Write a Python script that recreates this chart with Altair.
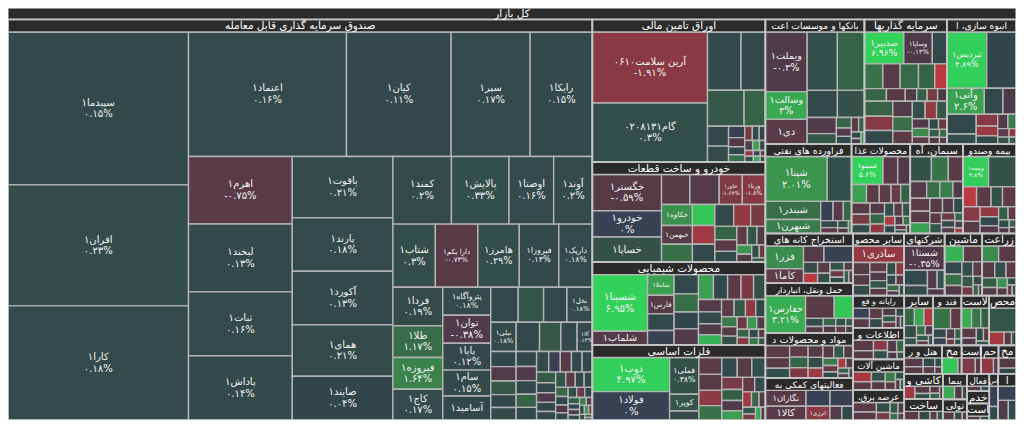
import altair as alt
import pandas as pd

# ---------------- data ----------------
ROOT_TITLE = "کل بازار"

SECTOR_HEADERS = [
    "صندوق سرمایه گذاری قابل معامله", "اوراق تامین مالی", "خودرو و ساخت قطعات", "محصولات شیمیایی",
    "فلزات اساسی", "بانکها و موسسات اعت", "سرمایه گذاریها", "انبوه سازی، ا", "فراورده های نفتی",
    "محصولات غذا", "سیمان، آه", "بیمه وصندو", "استخراج کانه های", "حمل ونقل، انباردار",
    "مواد و محصولات د", "فعالیتهای کمکی به", "سایر محصو", "شرکتهای", "ماشین", "زراعت",
    "رایانه و فع", "اطلاعات و", "ماشین آلات", "عرضه برق،\u200f", "سایر", "قند و", "لاست", "محص",
    "هتل و ر", "مخ", "است", "حم", "مخ", "کاشی و", "ساخت", "پیما", "تولی", "فعال", "خدم", "است",
    "اس", "ا",
]
SECTOR_SIZES = [
    245856, 25900, 18200, 15050, 13650, 12954, 10795, 9017, 8096, 5520, 4968, 4968,
    4576, 4576, 4136, 3872, 3339, 2646, 2457, 2205, 1734, 1700, 1650, 1620,
    1508, 1480, 1450, 1404, 1131, 580, 580, 522, 522, 1014, 858, 650, 525, 408, 288, 384, 432, 864,
]
SECTOR_GROUPS = "V1 V4 H3 H4 V4 H4 V4 H4 H5 V2 V2 V3 V1 V1"

# cells shown with name only (no percent line)
NAME_ONLY = {"آسامید۱", "خساپا۱", "خکاوه۱", "خبهمن۱", "شبندر۱", "شبهرن۱", "شاملا۱", "فارس۱",
             "شلماب۱", "کویر۱", "دی۱", "فزر۱", "کاما۱", "نگاران۱", "کالا۱", "انرژی۱", "ساذری۱"}

funds_main = [
    ("سپیدما۱", 28756, 0.15), ("افران۱", 22750, 0.23), ("کارا۱", 21476, 0.18),
    ("اعتماد۱", 20480, 0.16), ("کیان۱", 13568, 0.11), ("سپر۱", 10240, 0.17), ("رایکا۱", 8064, 0.15),
    ("اهرم۱", 7300, -0.75), ("لبخند۱", 7350, 0.13), ("ثبات۱", 6900, 0.16), ("پاداش۱", 6950, 0.14),
    ("یاقوت۱", 6426, 0.21), ("پارند۱", 5610, 0.18), ("آکورد۱", 5610, 0.13), ("همای۱", 5406, 0.21),
    ("صایند۱", 4590, 0.04),
    ("کمند۱", 4130, 0.2), ("پالایش۱", 4060, 0.33), ("اوصتا۱", 3150, 0.16), ("آوند۱", 2730, 0.2),
    ("شتاب۱", 2795, 0.3), ("دارا یکم۱", 2795, -0.73), ("هامرز۱", 2730, 0.29), ("فیروزا۱", 2600, 0.13),
    ("داریک۱", 2210, 0.18),
    ("فردا۱", 2000, 0.19), ("طلا۱", 1650, 1.17), ("فیروزه۱", 1650, 1.64), ("کاج۱", 1600, 0.17),
    ("پتروآگاه۱", 1400, 0.18), ("توان۱", 1400, -0.38), ("پایا۱", 1344, 0.12), ("سام۱", 1296, 0.15),
    ("آسامید۱", 1200, 0.1),
    ("", 999, 0.1), ("", 925, 0.45), ("", 851, 0.1), ("نخل۱", 925, 0.18),
    ("نیلی۱", 775, 0.18), ("", 713, 0.1), ("", 651, 0.6), ("", 496, 0.08), ("آلا۱", 465, 0.12),
]
funds_groups = "V3 H4 V4 V5 H4 H5 V4 V5 H4 H5"
funds_rest_sizes = [400, 380, 360, 340, 330, 320, 300, 290, 280, 270, 260, 250, 240, 230, 220, 210, 200,
                    190, 180, 170, 160, 150, 140, 130, 120, 110, 100, 95, 90, 85, 80, 75, 70, 65, 60, 55,
                    50, 45, 40, 35, 30, 25, 20]
funds_rest_changes = [0.1, -0.5, 0.6, 0.1, 0.2, 0.1, -0.4, 0.1, 0.9, 0.1, 0.2, 0, -0.6, 0.1, 0.1, 0.7,
                      0.1, -0.3, 0.1, 0.1, 0.5, -0.8, 0.1, 0.2, 1.1, 0.1, -0.4, 0.1, 0.3, -1.2, 0.1, 0.8,
                      0.1, -0.5, 0.2, 1.5, -0.9, 0.1, 2.0, -1.5, 0.1, 0.6, -0.3]

bonds_main = [("آرین سلامت۰۶۱۰", 8280, -1.91), ("گام۰۲۰۸۱۳۱", 6900, 0.3), ("", 1980, 0.1),
              ("", 1440, 0.15), ("", 1332, 0.6), ("", 777, 0.9)]
bonds_groups = "V2 H2 H2"
bonds_rest_sizes = [425, 340, 187, 150, 130, 120, 110, 100, 90, 80, 70, 60, 50, 50, 40, 40, 30, 30]
bonds_rest_changes = [0.1, 0.2, 0, -0.5, 0.1, 1.2, -1.5, 0.2, 0.1, -0.3, 2.5, 0.1, -2.0, 0.4, 0.1, 3.0,
                      -0.6, 0.2]

auto_main = [("خگستر۱", 2556, -0.59), ("خودرو۱", 1846, 0), ("خساپا۱", 1775, 0.4), ("", 864, -0.6),
             ("", 896, -0.5), ("خاور۱", 704, -1.67), ("ورنا۱", 704, -1.8), ("خکاوه۱", 660, 1.9),
             ("خبهمن۱", 594, -0.6), ("", 561, 1.2), ("", 480, 4.5), ("", 432, -2.5), ("", 408, 0.1)]
auto_groups = "V3 H4 V3 V3"
auto_rest_sizes = [420, 380, 330, 300, 260, 240, 200, 180, 160, 140, 120, 100, 80, 60]
auto_rest_changes = [0.1, -2.2, -1.5, 1.0, -0.8, 0.2, -1.0, 0.5, -0.3, 2.0, -0.5, 0.3, -1.2, 0.8]

chem_main = [("شسینا۱", 3190, 6.95), ("شلماب۱", 770, -0.5), ("شاملا۱", 560, 2.5), ("فارس۱", 504, -0.6),
             ("", 448, 0.1), ("", 392, 0)]
chem_groups = "V2 V4"
chem_rest_sizes = [480, 450, 420, 400, 380, 360, 340, 320, 300, 290, 280, 260, 240, 220, 200, 180, 170,
                   160, 150, 140, 130, 120, 110, 100, 90, 80, 70, 60, 50]
chem_rest_changes = [0.1, 1.2, 0.05, -0.4, 2.5, 0.1, -0.8, -1.6, 0.4, -0.5, 0.2, -0.3, 3.5, -0.9, 0.6,
                     -2.1, 0.1, 1.5, -0.6, 0.3, -1.2, 2.2, -0.3, 0.9, -1.8, 0.2, 1.4, -0.7, 0.5]

metal_main = [("ذوب۱", 2730, 4.97), ("فولاد۱", 2262, 0), ("فملی۱", 1110, 0.38), ("کویر۱", 510, 0.5),
              ("", 270, 0.2)]
metal_groups = "V2 V3"
metal_rest_sizes = [400, 380, 360, 340, 320, 300, 280, 260, 240, 220, 200, 180, 160, 140, 120, 100, 90,
                    80, 70, 60]
metal_rest_changes = [-0.9, -0.6, -2.0, 1.3, 0.1, -0.7, 0.3, -1.5, 0.8, -0.4, 2.4, -1.1, 0.2, -2.6, 1.0,
                      -0.3, 0.5, -1.4, 3.0, -0.2]

bank_main = [("ویملت۱", 2378, -0.3), ("وسالت۱", 1107, 3.0), ("دی۱", 984, -0.8), ("", 1682, 0.3),
             ("", 1508, 0.9), ("", 783, 0.15), ("", 702, 0.35)]
bank_groups = "V3 H2 H2"
bank_rest_sizes = [448, 288, 150, 120, 110, 100, 80, 60, 50, 40]
bank_rest_changes = [-0.4, 0.6, 1.0, -0.5, 0.1, -1.0, 0.8, 0.1, -0.3, 2.0]

invest_main = [("صدبیر۱", 1240, 6.96), ("وساپا۱", 899, -0.13), ("", 465, 0.1), ("", 450, 1.3),
               ("", 425, -0.7), ("", 450, 1.1), ("", 400, 0.9), ("", 300, -3.5), ("", 273, 1.0),
               ("", 234, -0.7), ("", 143, -0.5), ("", 130, 0.8), ("", 130, -1.5), ("", 117, -0.2)]
invest_groups = "H3 H5 H6"
invest_rest_sizes = [420, 400, 380, 300, 280, 250, 220, 200, 180, 160, 140, 120, 100, 90, 80, 70, 60, 50]
invest_rest_changes = [0.9, -1.8, 0.1, -0.5, 1.2, -0.9, 0.3, -2.2, 0.6, -0.4, 1.8, -0.8, 0.2, -1.3, 0.7,
                       -0.2, 1.1, -0.6]

build_main = [("ثپردیس۱", 2300, 4.89), ("", 1700, 0.05), ("وآتی۱", 1000, 2.6), ("", 500, 0.1),
              ("", 350, -0.2)]
build_groups = "H2 H3"
build_rest_sizes = [595, 300, 260, 220, 180, 150, 120, 100, 80, 60, 50]
build_rest_changes = [0.1, 0.3, -1.8, -2.5, 0.2, -0.5, 1.5, -1.0, 0.4, -2.0, 0.8]

oil_main = [("شپنا۱", 2806, 2.01), ("", 1104, 0.3), ("شبندر۱", 1008, 1.2), ("شبهرن۱", 784, 1.5)]
oil_groups = "H2 V2"
oil_rest_sizes = [240, 200, 160, 120, 100, 80, 60, 40]
oil_rest_changes = [0, -0.6, 1.0, 0.3, -0.9, 0.5, -0.2, 1.5]

food_main = [("غمینو۱", 840, 5.6), ("", 392, -0.7), ("", 336, -0.4), ("", 266, 2.5), ("", 228, -0.8),
             ("", 209, -0.9), ("", 171, -1.2), ("", 171, 0.9)]
food_groups = "H3 H5"
food_rest_sizes = [200, 180, 160, 150, 140, 130, 120, 110, 100, 90, 80, 70, 60, 50, 40, 30]
food_rest_changes = [-0.6, -1.5, 0.2, -0.4, 1.0, -2.0, 0.3, -0.7, 0.5, -3.0, 0.1, -0.5, 1.2, -1.0, 0.4,
                     -0.3]

cement_main = [("", 460, 0.4), ("", 368, 1.3), ("", 322, -0.6), ("", 240, -0.5), ("", 192, 1.2),
               ("", 192, 1.5), ("", 150, -0.3)]
cement_groups = "H3 H4"
cement_rest_sizes = [220, 200, 180, 160, 140, 120, 110, 100, 90, 80, 70, 60, 50, 40]
cement_rest_changes = [-0.9, -0.7, 2.5, -0.6, -0.4, 0.2, -0.8, 0.5, -1.2, 0.1, -0.5, 1.0, -0.3, -3.0]

insur_main = [("وبیمه۱", 750, 4.8), ("", 810, 0.4), ("", 260, -3.5), ("", 280, -0.8), ("", 220, 0.4),
              ("", 260, -1.0)]
insur_groups = "H2 H4"
insur_rest_sizes = [240, 200, 180, 160, 140, 120, 100, 80, 60, 50, 40]
insur_rest_changes = [-1.8, -0.6, -2.2, 0.1, -0.5, 0.8, -1.1, 0.3, -0.4, 1.0, -0.2]

mine_main = [("فزر۱", 836, 1.8), ("کاما۱", 532, -0.9), ("", 323, -0.5), ("", 459, 0)]
mine_groups = "V2 H2"
mine_rest_sizes = [150, 133, 130, 120, 110, 90, 80, 70, 60, 50]
mine_rest_changes = [0.2, -3.5, -0.6, 0.3, 0.4, -1.2, 0.1, -0.3, 0.8, -0.5]

trans_main = [("حفارس۱", 1558, 3.21), ("", 676, -0.7), ("", 442, 4.5)]
trans_groups = "V1 H2"
trans_rest_sizes = [150, 120, 100, 90, 80, 70, 60, 50]
trans_rest_changes = [0.2, -0.5, 1.0, -0.3, 0.4, -1.0, 0.6, -0.2]

pharma_rest_sizes = [300, 260, 240, 220, 200, 190, 180, 160, 150, 140, 130, 120, 110, 100, 90, 80, 70,
                     60, 50, 40]
pharma_rest_changes = [-0.8, -0.6, 0.3, -0.9, 1.0, -1.6, -0.5, 0.2, -2.5, -0.7, 0.6, -0.4, 1.5, -1.2,
                       0.1, -3.0, -0.3, 0.8, -0.6, 0.2]

support_main = [("نگاران۱", 624, -0.7), ("", 368, 0), ("", 352, 0), ("کالا۱", 546, -0.8),
                ("انرژی۱", 322, -1.9), ("", 160, -0.5), ("", 150, 0.1)]
support_groups = "H3 H4"

mineral_main = [("ساذری۱", 832, -2.2)]
mineral_rest_sizes = [200, 180, 170, 160, 140, 130, 120, 110, 100, 90, 80, 70, 60, 50]
mineral_rest_changes = [-0.7, -0.5, 0.2, -1.0, -0.4, 0.5, -0.8, 0.3, -2.0, 0.1, -0.6, 1.2, -0.3, 0.4]

multi_main = [("شستا۱", 1000, -0.35)]
multi_rest_sizes = [360, 240, 180, 140, 120]
multi_rest_changes = [0.1, 0.2, -0.5, 0.4, -0.2]

machine_main = [("", 306, 3.5), ("", 306, -0.8)]
machine_rest_sizes = [220, 200, 180, 160, 140, 120, 100, 80, 60, 40]
machine_rest_changes = [0.1, 1.2, -0.5, 0.3, -0.9, 0.6, -1.4, 0.2, 0.9, -0.3]

farm_main = [("", 255, 1.8), ("", 270, -0.7)]
farm_rest_sizes = [200, 180, 160, 140, 120, 100, 80, 60, 50, 40]
farm_rest_changes = [-0.5, 0.3, -1.0, 0.8, -0.4, 2.0, -0.6, 0.2, -1.2, 0.5]

small_sizes = [
    [200, 180, 160, 140, 120, 100, 90, 80, 60, 50],          # رایانه
    [240, 200, 160, 140, 120, 100, 80, 60],                  # اطلاعات
    [220, 180, 160, 140, 120, 100, 80, 60, 50],              # ماشین آلات
    [260, 220, 160, 120, 100, 80, 60, 50],                   # عرضه برق
    [190, 180, 170, 160, 100, 90, 80, 70, 60, 50],           # سایر
    [420, 260, 140, 120, 100, 80, 60, 50],                   # قند
    [220, 200, 180, 160, 120, 100, 80, 60],                  # لاست
    [650, 200, 100, 60],                                     # محص
    [200, 160, 120, 100, 80, 60],                            # هتل
    [260, 60], [240, 100], [200, 80], [180, 100],            # مخ، است، حم، مخ
    [200, 160, 120, 100, 80, 60],                            # کاشی
    [160, 120, 80, 60],                                      # ساخت
    [150, 100, 60], [120, 80, 50], [100, 60], [60, 40], [60, 40], [60, 40], [150, 120, 90],
]
small_changes = [
    [0, -0.6, -0.9, 0.2, -0.4, 0.6, -1.1, 0.1, -0.3, 0.4],
    [-0.7, -0.6, -1.8, 0.3, -0.4, 1.0, -0.2, 0.5],
    [-2.8, -0.8, 0.4, -0.5, 1.5, -1.0, 0.2, -0.3, 0.8],
    [-0.8, -0.6, 0.2, -1.5, 0.6, -0.3, 1.2, -0.9],
    [1.0, 3.0, -3.0, 0.3, 0.4, 1.2, -0.3, 0.6, -0.8, 0.2],
    [1.3, -0.9, 0.1, 0, -0.5, 0.9, -1.5, 0.3],
    [3.2, 1.4, 0.8, -0.7, -0.4, 0.2, -1.0, 0.5],
    [0.5, -2.8, -0.6, 0.2],
    [-0.7, -0.5, 0.1, -0.9, 0.3, -0.4],
    [4.5, -0.5], [-1.6, -0.8], [-2.0, -0.5], [-0.5, 0.1],
    [-2.5, -0.6, 0.3, -0.8, 1.0, -0.3],
    [-0.7, 0.2, -1.0, 0.5],
    [3.0, -0.3, 0.2], [-0.6, 0.2, -1.0], [-0.5, 0.3], [0.1, -0.6], [-0.4, 0.2], [0, 0.1], [0, -0.3, 0.1],
]

SECTOR_CELLS = [
    (funds_main, funds_groups, funds_rest_sizes, funds_rest_changes),
    (bonds_main, bonds_groups, bonds_rest_sizes, bonds_rest_changes),
    (auto_main, auto_groups, auto_rest_sizes, auto_rest_changes),
    (chem_main, chem_groups, chem_rest_sizes, chem_rest_changes),
    (metal_main, metal_groups, metal_rest_sizes, metal_rest_changes),
    (bank_main, bank_groups, bank_rest_sizes, bank_rest_changes),
    (invest_main, invest_groups, invest_rest_sizes, invest_rest_changes),
    (build_main, build_groups, build_rest_sizes, build_rest_changes),
    (oil_main, oil_groups, oil_rest_sizes, oil_rest_changes),
    (food_main, food_groups, food_rest_sizes, food_rest_changes),
    (cement_main, cement_groups, cement_rest_sizes, cement_rest_changes),
    (insur_main, insur_groups, insur_rest_sizes, insur_rest_changes),
    (mine_main, mine_groups, mine_rest_sizes, mine_rest_changes),
    (trans_main, trans_groups, trans_rest_sizes, trans_rest_changes),
    ([], "", pharma_rest_sizes, pharma_rest_changes),
    (support_main, support_groups, [], []),
    (mineral_main, "H1", mineral_rest_sizes, mineral_rest_changes),
    (multi_main, "H1", multi_rest_sizes, multi_rest_changes),
    (machine_main, "H2", machine_rest_sizes, machine_rest_changes),
    (farm_main, "H2", farm_rest_sizes, farm_rest_changes),
] + [([], "", s, c) for s, c in zip(small_sizes, small_changes)]

# ---------------- treemap layout (computed from the values) ----------------
PHI = (1 + 5 ** 0.5) / 2
DW, DH = 1024.0, 428.0          # layout space
PW, PH = 1008, 412              # drawing size
SX, SY = PW / DW, PH / DH
ROOT_HDR = 12.0
SEC_HDR = 13.0
FA = str.maketrans("0123456789", "۰۱۲۳۴۵۶۷۸۹")


def fa_pct(v):
    s = f"{abs(v):.2f}".rstrip("0").rstrip(".")
    return ("-" if v < 0 else "") + s.translate(FA) + "%"


def place(sizes, group, orient, x0, y0, x1, y1, remaining, rects):
    s = float(sum(sizes[i] for i in group))
    frac = s / remaining if remaining > 0 else 0
    if orient == "H":
        h = (y1 - y0) * frac
        x = x0
        for i in group:
            w = (x1 - x0) * sizes[i] / s
            rects[i] = (x, y0, x + w, y0 + h)
            x += w
        return x0, y0 + h, x1, y1
    w = (x1 - x0) * frac
    y = y0
    for i in group:
        hh = (y1 - y0) * sizes[i] / s
        rects[i] = (x0, y, x0 + w, y + hh)
        y += hh
    return x0 + w, y0, x1, y1


def tile(sizes, groups, x0, y0, x1, y1):
    n = len(sizes)
    rects = [(x0, y0, x0, y0)] * n
    idx = 0
    remaining = float(sum(sizes))
    for tok in (groups.split() if groups else []):
        grp = list(range(idx, min(idx + int(tok[1:]), n)))
        if not grp:
            break
        x0, y0, x1, y1 = place(sizes, grp, tok[0], x0, y0, x1, y1, remaining, rects)
        remaining -= sum(sizes[i] for i in grp)
        idx += len(grp)
    while idx < n:
        dx, dy = x1 - x0, y1 - y0
        if dx <= 0.01 or dy <= 0.01 or remaining <= 0:
            break
        alpha = max(dy / dx, dx / dy) / (remaining * PHI)
        s = sizes[idx]
        mn = mx = s
        beta = s * s * alpha
        best = max(mx / beta, beta / mn)
        j = idx + 1
        while j < n:
            v = sizes[j]
            s2, mn2, mx2 = s + v, min(mn, v), max(mx, v)
            beta = s2 * s2 * alpha
            r = max(mx2 / beta, beta / mn2)
            if r > best:
                break
            s, mn, mx, best = s2, mn2, mx2, r
            j += 1
        grp = list(range(idx, j))
        x0, y0, x1, y1 = place(sizes, grp, "H" if dx < dy else "V", x0, y0, x1, y1, remaining, rects)
        remaining -= s
        idx = j
    return rects


cell_rows, hdr_rows, hdr_txt, lbl_rows, outline_rows = [], [], [], [], []
hdr_rows.append(dict(x=0.0, x2=DW, y=0.0, y2=ROOT_HDR))
hdr_txt.append(dict(cx=DW / 2, cy=ROOT_HDR / 2 + 0.5, t=ROOT_TITLE, fs=10.5))

sector_rects = tile(SECTOR_SIZES, SECTOR_GROUPS, 0.0, ROOT_HDR, DW, DH)
for k, (title, (sx0, sy0, sx1, sy1)) in enumerate(zip(SECTOR_HEADERS, sector_rects)):
    main, groups, rsz, rch = SECTOR_CELLS[k]
    names = [m[0] for m in main] + [""] * len(rsz)
    sizes = [m[1] for m in main] + list(rsz)
    chgs = [m[2] for m in main] + list(rch)
    hh = min(SEC_HDR, sy1 - sy0)
    hdr_rows.append(dict(x=sx0, x2=sx1, y=sy0, y2=sy0 + hh))
    outline_rows.append(dict(x=sx0, x2=sx1, y=sy0, y2=sy1))
    wpx = (sx1 - sx0) * SX
    hfs = min(10.5, (wpx - 3) / (0.55 * max(len(title), 1)))
    hdr_txt.append(dict(cx=(sx0 + sx1) / 2, cy=sy0 + hh / 2 + 0.5, t=title, fs=max(hfs, 6)))
    rects = tile(sizes, groups, sx0, sy0 + hh, sx1, sy1)
    for nm, ch, (x0, y0, x1, y1) in zip(names, chgs, rects):
        if x1 - x0 <= 0.05 or y1 - y0 <= 0.05:
            continue
        cell_rows.append(dict(x=x0, x2=x1, y=y0, y2=y1, chg=ch))
        if nm:
            pct = "" if nm in NAME_ONLY else fa_pct(ch)
            w, h = (x1 - x0) * SX, (y1 - y0) * SY
            L = max(len(nm), len(pct))
            fs = min(10.0, w / (0.58 * L + 0.8), h / (2.5 if pct else 1.4))
            fs = max(fs, 5.5)
            cx, cy = (x0 + x1) / 2, (y0 + y1) / 2
            if pct:
                off = 0.58 * fs / SY
                lbl_rows.append(dict(cx=cx, cy=cy - off, t=nm, fs=fs))
                lbl_rows.append(dict(cx=cx, cy=cy + off, t=pct, fs=fs))
            else:
                lbl_rows.append(dict(cx=cx, cy=cy, t=nm, fs=fs))

cells_df = pd.DataFrame(cell_rows)
hdr_df = pd.DataFrame(hdr_rows)
hdr_txt_df = pd.DataFrame(hdr_txt)
lbl_df = pd.DataFrame(lbl_rows)
outline_df = pd.DataFrame(outline_rows)

# ---------------- chart ----------------
xs = alt.Scale(domain=[0, DW], nice=False, zero=False)
ys = alt.Scale(domain=[0, DH], nice=False, zero=False, reverse=True)
color_scale = alt.Scale(
    domain=[-5, -2, -1, -0.01, 0, 0.01, 1, 2, 5],
    range=["#e8393c", "#8e3a44", "#5f3b47", "#4a3b48", "#3b4155", "#32464b", "#376548", "#3c954f",
           "#32d15a"],
    clamp=True, interpolate="rgb")
FONT = "DejaVu Sans"


def rect_enc(ch):
    return ch.encode(
        x=alt.X("x:Q", scale=xs, axis=None), x2="x2:Q",
        y=alt.Y("y:Q", scale=ys, axis=None), y2="y2:Q")


cells = rect_enc(alt.Chart(cells_df).mark_rect(stroke="#b4b4b4", strokeWidth=1.4)).encode(
    color=alt.Color("chg:Q", scale=color_scale, legend=None))
headers = rect_enc(alt.Chart(hdr_df).mark_rect(fill="#2b2b2b", stroke="#b8b8b8", strokeWidth=1.4))
outlines = rect_enc(alt.Chart(outline_df).mark_rect(fillOpacity=0, stroke="#c4c4c4", strokeWidth=1.6))


def text_layer(df, color, weight):
    return alt.Chart(df).mark_text(font=FONT, color=color, align="center", baseline="middle",
                                   fontWeight=weight).encode(
        x=alt.X("cx:Q", scale=xs, axis=None),
        y=alt.Y("cy:Q", scale=ys, axis=None),
        text="t:N",
        size=alt.Size("fs:Q", scale=None, legend=None))


chart = alt.layer(
    cells, headers, outlines,
    text_layer(hdr_txt_df, "#ffffff", "normal"),
    text_layer(lbl_df, "#f2f2f2", "normal"),
).properties(
    width=PW, height=PH, padding=0, background="#bdbdbd",
    autosize=alt.AutoSizeParams(type="none"),
).configure_view(stroke=None)

chart.save("out.html", embed_options={"renderer": "svg", "actions": False})
